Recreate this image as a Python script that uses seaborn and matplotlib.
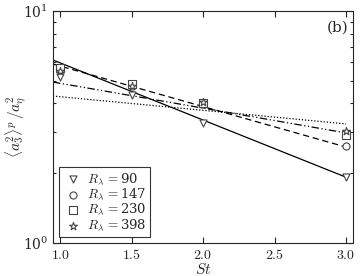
import matplotlib
matplotlib.use('Agg')
from matplotlib import pyplot as plt
from matplotlib.ticker import FormatStrFormatter, LogLocator, NullFormatter
import seaborn as sns
import pandas as pd

# data
st = [1.0, 1.5, 2.0, 3.0]
a_r90 = [5.2, 4.35, 3.29, 1.92]
a_r147 = [5.57, 4.75, 3.97, 2.62]
a_r230 = [5.68, 4.85, 4.01, 2.92]
a_r398 = [5.51, 4.75, 4.05, 3.04]

# fitted lines (end points)
fit_st = [0.95, 3.0]
fit_r90 = [6.15, 1.92]
fit_r147 = [5.91, 2.59]
fit_r230 = [4.94, 2.98]
fit_r398 = [4.30, 3.26]

labels = [r'$R_\lambda\,=$90', r'$R_\lambda\,=$147', r'$R_\lambda\,=$230', r'$R_\lambda\,=$398']
markers = ['v', 'o', 's', '*']
styles = ['-', (0, (5, 3)), (0, (6, 2, 1, 2, 1, 2)), (0, (1, 1.5))]

sns.set_theme(style='ticks')
plt.rcParams['mathtext.fontset'] = 'cm'
plt.rcParams['font.family'] = ['DejaVu Serif']

fig = plt.figure(figsize=(3.6, 2.76), dpi=100)
ax = fig.add_axes([0.147, 0.12, 0.834, 0.84])

series = [a_r90, a_r147, a_r230, a_r398]
fits = [fit_r90, fit_r147, fit_r230, fit_r398]
for vals, fit, lab, mk, ls in zip(series, fits, labels, markers, styles):
    sns.lineplot(x=fit_st, y=fit, color='black', lw=0.9, linestyle=ls, ax=ax, legend=False)
    df = pd.DataFrame({'St': st, 'a': vals})
    sns.scatterplot(data=df, x='St', y='a', marker=mk, s=34 if mk == '*' else 26,
                    facecolor='white', edgecolor='#444444', linewidth=0.8, ax=ax, label=lab, zorder=3)

ax.set_yscale('log')
ax.set_xlim(0.95, 3.05)
ax.set_ylim(1, 10)
ax.set_xticks([1.0, 1.5, 2.0, 2.5, 3.0])
ax.xaxis.set_major_formatter(FormatStrFormatter('$%.1f$'))
ax.yaxis.set_major_locator(LogLocator(base=10))
ax.yaxis.set_minor_locator(LogLocator(base=10, subs=range(2, 10)))
ax.yaxis.set_minor_formatter(NullFormatter())
ax.tick_params(which='both', direction='in', top=True, right=True, labelsize=10, width=0.8)
ax.tick_params(which='major', length=4)
ax.tick_params(which='minor', length=2)
for sp in ax.spines.values():
    sp.set_linewidth(0.8)

ax.set_xlabel(r'$St$', fontsize=11, labelpad=0)
ax.set_ylabel(r'$\langle a_3^2\rangle^p\, /a_\eta^2$', fontsize=11)
ax.yaxis.set_label_coords(-0.08, 0.5)
ax.text(0.947, 0.927, '(b)', transform=ax.transAxes, ha='center', va='center', fontsize=11,
        fontfamily='DejaVu Serif')

leg = ax.legend(loc='lower left', bbox_to_anchor=(0.02, 0.026), borderaxespad=0, fontsize=9.5,
                frameon=True, fancybox=False, edgecolor='black', handletextpad=0.2,
                labelspacing=0.0, borderpad=0.3, handlelength=1.6)
leg.get_frame().set_linewidth(0.8)

plt.savefig('out.png', dpi=100)
